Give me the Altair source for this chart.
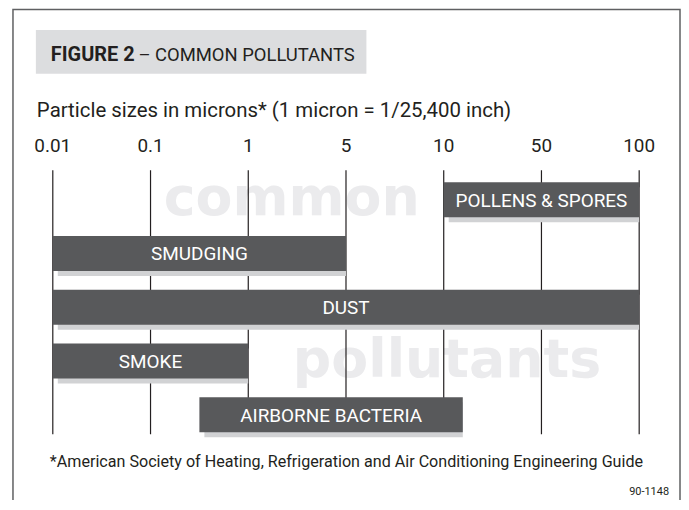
import altair as alt
import pandas as pd

# ---- data ----
tick_values = [0.01, 0.1, 1, 5, 10, 50, 100]
tick_labels = ["0.01", "0.1", "1", "5", "10", "50", "100"]

pollutants = ["POLLENS & SPORES", "SMUDGING", "DUST", "SMOKE", "AIRBORNE BACTERIA"]
size_min = [10, 0.01, 0.01, 0.01, 0.55]      # microns
size_max = [100, 5, 100, 1, 17.8]            # microns

title_bold = "FIGURE 2"
title_rest = "– COMMON POLLUTANTS"
subtitle = "Particle sizes in microns* (1 micron = 1/25,400 inch)"
footnote = "*American Society of Heating, Refrigeration and Air Conditioning Engineering Guide"
code = "90-1148"
watermark = ["common", "pollutants"]

# ---- styling ----
FONT = "Roboto, Liberation Sans, sans-serif"
WM_FONT = "DejaVu Sans, Lato, sans-serif"
BAR = "#58595b"
SHADOW = "#d1d2d4"
INK = "#231f20"

W, H = 676, 492


def slot_expr(f):
    v = f"datum.{f}"
    return (f"{v} <= 0.1 ? ({v}-0.01)/0.09 : {v} <= 1 ? 1+({v}-0.1)/0.9 : "
            f"{v} <= 5 ? 2+({v}-1)/4 : {v} <= 10 ? 3+({v}-5)/5 : "
            f"{v} <= 50 ? 4+({v}-10)/40 : 5+({v}-50)/50")


ticks = pd.DataFrame({"value": tick_values, "label": tick_labels})
bars = pd.DataFrame({"name": pollutants, "lo": size_min, "hi": size_max})
one = pd.DataFrame({"a": [0]})

x_scale = alt.Scale(domain=[0, 6], range=[45, 634], nice=False, zero=False)
y_scale = alt.Scale(domain=pollutants, range=[174, 425], paddingInner=0.352, paddingOuter=0)

# frame
frame = alt.Chart(one).mark_rect(fill=None, stroke="#5f6062", strokeWidth=1.5).encode(
    x=alt.value(5), x2=alt.value(675), y=alt.value(0.5), y2=alt.value(700)
)

# title box
title_box = alt.Chart(one).mark_rect(color="#dcdddf").encode(
    x=alt.value(28), x2=alt.value(360), y=alt.value(21), y2=alt.value(65)
)
title1 = alt.Chart(one).mark_text(
    text=title_bold, font=FONT, fontSize=20, fontWeight="bold", color=INK,
    align="left", baseline="alphabetic"
).encode(x=alt.value(43), y=alt.value(52))
title2 = alt.Chart(one).mark_text(
    text=title_rest, font=FONT, fontSize=18.5, color=INK,
    align="left", baseline="alphabetic"
).encode(x=alt.value(131), y=alt.value(52))

sub = alt.Chart(one).mark_text(
    text=subtitle, font=FONT, fontSize=20.5, color=INK, align="left", baseline="alphabetic"
).encode(x=alt.value(29), y=alt.value(108))

# watermark
wm1 = alt.Chart(one).mark_text(
    text=watermark[0], font=WM_FONT, fontSize=54, fontWeight="bold", color="#ebebed",
    align="center", baseline="alphabetic"
).encode(x=alt.value(285), y=alt.value(207))
wm2 = alt.Chart(one).mark_text(
    text=watermark[1], font=WM_FONT, fontSize=54, fontWeight="bold", color="#ebebed",
    align="center", baseline="alphabetic"
).encode(x=alt.value(441), y=alt.value(370))

# grid + tick labels
tick_base = alt.Chart(ticks).transform_calculate(slot=slot_expr("value"))
grid = tick_base.mark_rule(color=INK, strokeWidth=1.2).encode(
    x=alt.X("slot:Q", scale=x_scale, axis=None), y=alt.value(162), y2=alt.value(427)
)
tick_text = tick_base.mark_text(
    font=FONT, fontSize=19, color=INK, baseline="alphabetic"
).encode(x=alt.X("slot:Q", scale=x_scale, axis=None), y=alt.value(144), text="label:N")

# bars
bar_base = alt.Chart(bars).transform_calculate(
    s0=slot_expr("lo"), s1=slot_expr("hi")
).transform_calculate(mid="(datum.s0 + datum.s1) / 2")

shadow = bar_base.mark_bar(color=SHADOW, xOffset=5, yOffset=5).encode(
    x=alt.X("s0:Q", scale=x_scale, axis=None), x2="s1:Q",
    y=alt.Y("name:N", scale=y_scale, axis=None)
)
bar = bar_base.mark_bar(color=BAR).encode(
    x=alt.X("s0:Q", scale=x_scale, axis=None), x2="s1:Q",
    y=alt.Y("name:N", scale=y_scale, axis=None)
)
bar_text = bar_base.mark_text(
    font=FONT, fontSize=19, color="white", baseline="middle", dy=1
).encode(
    x=alt.X("mid:Q", scale=x_scale, axis=None),
    y=alt.Y("name:N", scale=y_scale, axis=None),
    text="name:N"
)

foot = alt.Chart(one).mark_text(
    text=footnote, font=FONT, fontSize=16.2, color=INK, align="left", baseline="alphabetic"
).encode(x=alt.value(42), y=alt.value(460))
code_t = alt.Chart(one).mark_text(
    text=code, font=FONT, fontSize=11, color=INK, align="right", baseline="alphabetic"
).encode(x=alt.value(664), y=alt.value(488))

chart = alt.layer(
    frame, title_box, title1, title2, sub, wm1, wm2, grid, tick_text,
    shadow, bar, bar_text, foot, code_t
).properties(
    width=W, height=H, padding=0,
    autosize=alt.AutoSizeParams(type="none")
).configure_view(stroke=None)

chart.save("out.html", embed_options={"renderer": "svg", "actions": False})
